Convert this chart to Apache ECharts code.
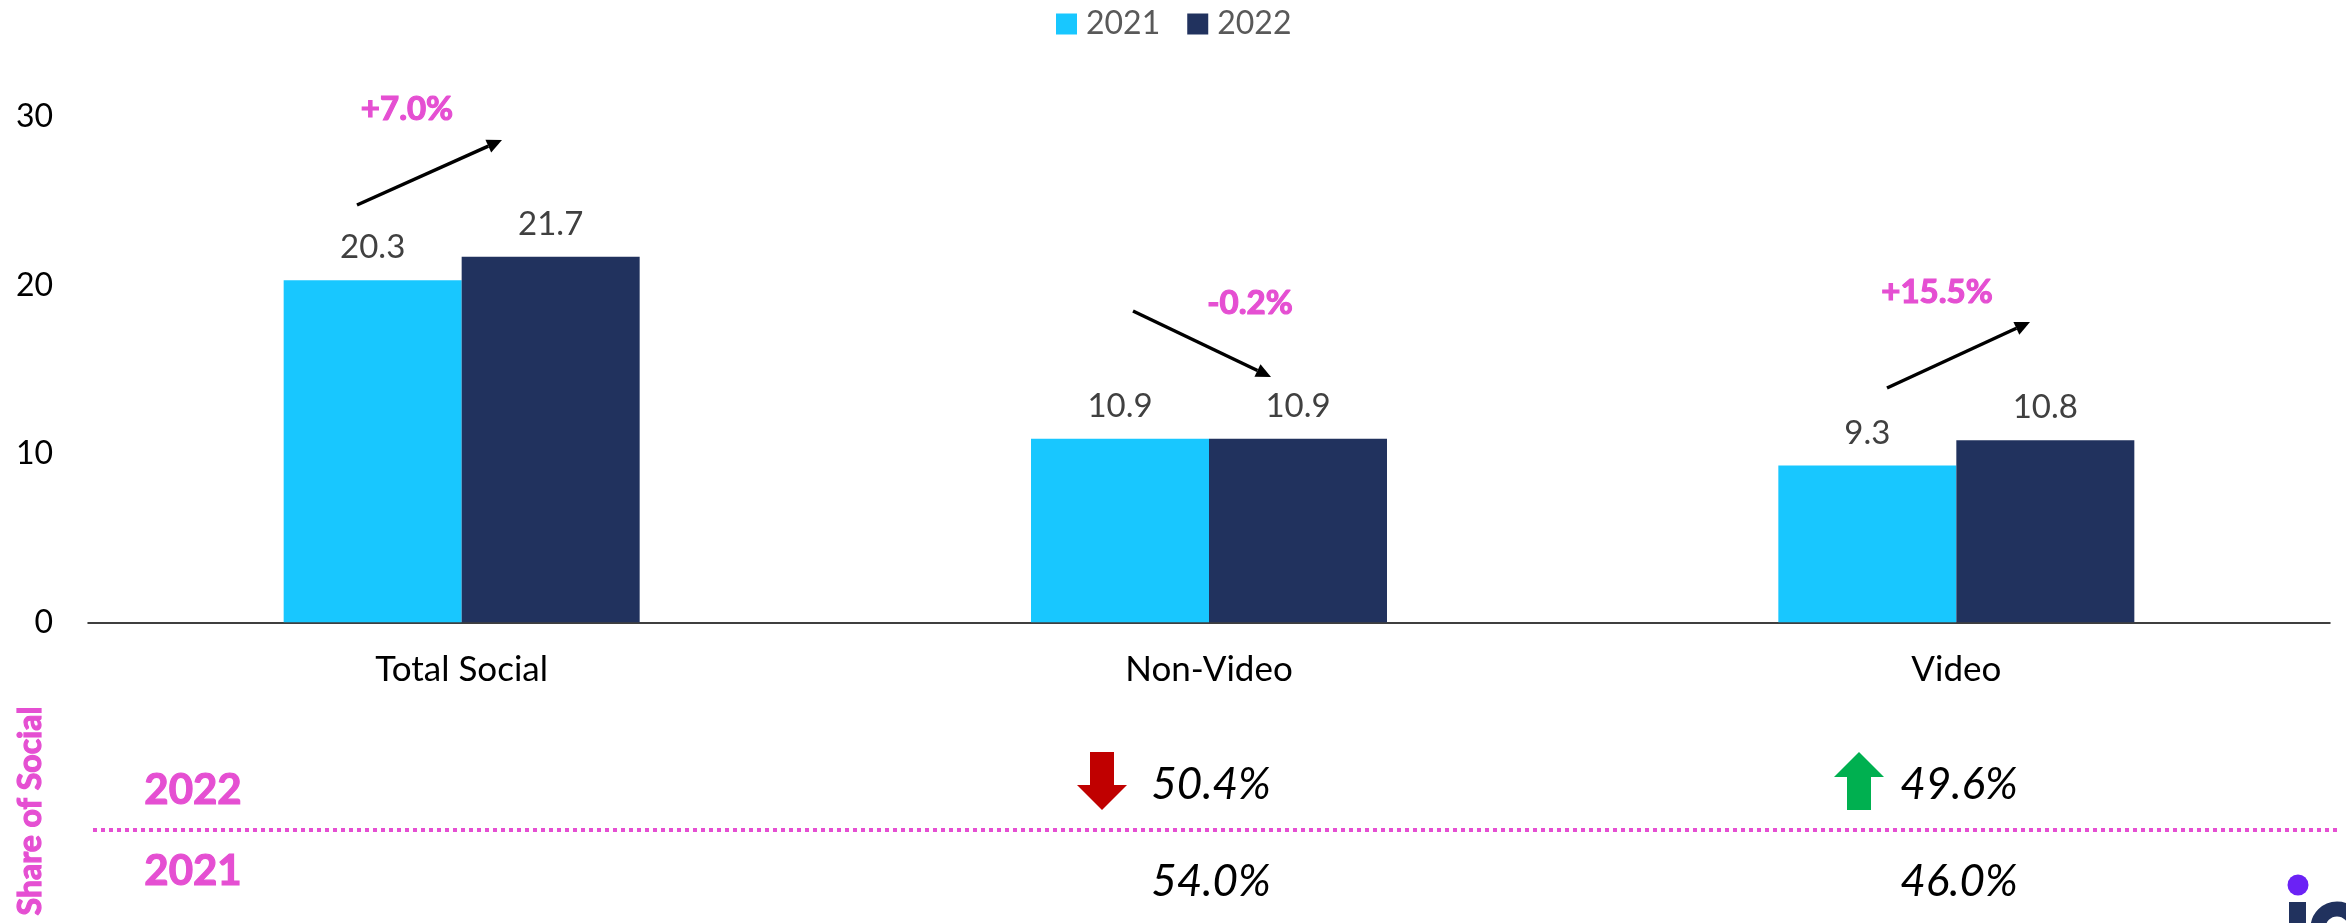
<!DOCTYPE html>
<html><head><meta charset="utf-8">
<style>html,body{margin:0;padding:0;background:#fff}#c{width:2346px;height:923px}</style>
<script src="https://cdn.jsdelivr.net/npm/echarts@6/dist/echarts.min.js"></script>
</head><body><div id="c"></div>
<script>
const categories = ['Total Social', 'Non-Video', 'Video'];
const values2021 = [20.3, 10.9, 9.3];
const values2022 = [21.7, 10.9, 10.8];
const yTicks = [0, 10, 20, 30];
const changeLabels = ['+7.0%', '-0.2%', '+15.5%'];
const share2022 = ['50.4%', '49.6%'];
const share2021 = ['54.0%', '46.0%'];

const FONT = 'Lato';
const PINK = '#E54FD2';
const NAVY = '#21325E';
const txt = (x, y, text, size, fill, weight, fontStyle) => ({
  type: 'text', x, y,
  style: { text, fontFamily: FONT, fontSize: size, fontWeight: weight || 'normal', fontStyle: fontStyle || 'normal', fill, align: 'center', verticalAlign: 'middle',
    stroke: weight === 'bold' ? fill : null, lineWidth: weight === 'bold' ? 1.2 : 0 }
});
const arrowLine = (x1, y1, x2, y2) => {
  const a = Math.atan2(y2 - y1, x2 - x1), L = 15, W = 7;
  const bx = x2 - L * Math.cos(a), by = y2 - L * Math.sin(a);
  const nx = -Math.sin(a), ny = Math.cos(a);
  return [
    { type: 'line', shape: { x1, y1, x2: bx, y2: by }, style: { stroke: '#000', lineWidth: 3.5 } },
    { type: 'polygon', shape: { points: [[x2, y2], [bx + nx * W, by + ny * W], [bx - nx * W, by - ny * W]] }, style: { fill: '#000' } }
  ];
};
const block = (cx, top, bottom, headAt, up, color) => {
  const s = 12, h = 25;
  const pts = up
    ? [[cx, top], [cx + h, headAt], [cx + s, headAt], [cx + s, bottom], [cx - s, bottom], [cx - s, headAt], [cx - h, headAt]]
    : [[cx, bottom], [cx + h, headAt], [cx + s, headAt], [cx + s, top], [cx - s, top], [cx - s, headAt], [cx - h, headAt]];
  return { type: 'polygon', shape: { points: pts }, style: { fill: color } };
};

const barLabel = { show: true, position: 'top', distance: 16, fontFamily: FONT, fontSize: 33, color: '#404040', formatter: p => p.value.toFixed(1) };

const chart = echarts.init(document.getElementById('c'), null, { renderer: 'canvas' });
chart.setOption({
  animation: false,
  backgroundColor: '#fff',
  textStyle: { fontFamily: FONT },
  legend: {
    left: 1051, top: 3, itemWidth: 21, itemHeight: 21, itemGap: 27, icon: 'rect',
    textStyle: { fontFamily: FONT, fontSize: 32, color: '#595959', padding: [0, 0, 0, 4] },
    data: ['2021', '2022']
  },
  grid: { left: 88, right: 16, top: 116.8, bottom: 300.7, containLabel: false },
  xAxis: {
    type: 'category', data: categories,
    axisTick: { show: false },
    axisLine: { lineStyle: { color: '#000', width: 1.5 } },
    axisLabel: { fontFamily: FONT, fontSize: 35, color: '#000', margin: 30 }
  },
  yAxis: {
    type: 'value', min: 0, max: 30, interval: 10,
    splitLine: { show: false }, axisLine: { show: false }, axisTick: { show: false },
    axisLabel: { fontFamily: FONT, fontSize: 32, color: '#000', margin: 35, formatter: v => yTicks.includes(v) ? String(v) : '' }
  },
  series: [
    { name: '2021', type: 'bar', data: values2021, barWidth: 178, barGap: '0%', itemStyle: { color: '#18C7FF' }, label: barLabel },
    { name: '2022', type: 'bar', data: values2022, barWidth: 178, itemStyle: { color: NAVY }, label: barLabel }
  ],
  graphic: { elements: [
    ...arrowLine(357, 205, 502, 140),
    ...arrowLine(1133, 311, 1271, 377),
    ...arrowLine(1887, 388, 2030, 322),
    txt(407, 109, changeLabels[0], 33, PINK, 'bold'),
    txt(1250, 303, changeLabels[1], 33, PINK, 'bold'),
    txt(1937, 292, changeLabels[2], 33, PINK, 'bold'),
    txt(193, 790, '2022', 42, PINK, 'bold'),
    txt(193, 871, '2021', 42, PINK, 'bold'),
    { type: 'text', x: 31, y: 811, rotation: Math.PI / 2, style: { text: 'Share of Social', fontFamily: FONT, fontWeight: 'bold', fontSize: 32, fill: PINK, stroke: PINK, lineWidth: 1.2, align: 'center', verticalAlign: 'middle' } },
    { type: 'line', shape: { x1: 93, y1: 830, x2: 2338, y2: 830 }, style: { stroke: PINK, lineWidth: 4, lineDash: [4, 4] } },
    txt(1211, 785, share2022[0], 44, '#000', 'normal', 'italic'),
    txt(1959, 785, share2022[1], 44, '#000', 'normal', 'italic'),
    txt(1211, 882, share2021[0], 44, '#000', 'normal', 'italic'),
    txt(1959, 882, share2021[1], 44, '#000', 'normal', 'italic'),
    block(1102, 752, 810, 785, false, '#C00000'),
    block(1859, 752, 810, 777, true, '#00B050'),
    { type: 'circle', shape: { cx: 2298, cy: 885, r: 10.5 }, style: { fill: '#6B22F5' } },
    { type: 'rect', shape: { x: 2289, y: 902, width: 17, height: 21 }, style: { fill: NAVY } },
    { type: 'circle', shape: { cx: 2337, cy: 928, r: 19 }, style: { fill: 'none', stroke: NAVY, lineWidth: 15 } }
  ] }
});
</script></body></html>
